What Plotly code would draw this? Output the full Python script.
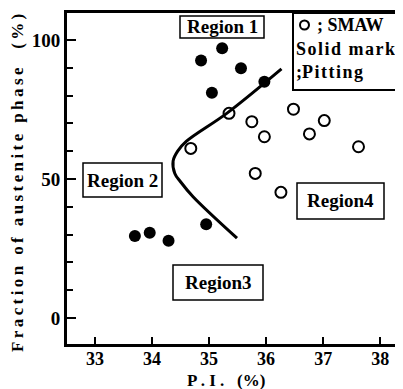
import plotly.graph_objects as go

# Data
pitting_x = [33.70, 33.96, 34.29, 34.95, 34.86, 35.05, 35.23, 35.56, 35.97]
pitting_y = [29.5, 30.7, 27.8, 33.7, 92.6, 81.0, 97.0, 89.8, 85.0]

smaw_x = [34.68, 35.35, 35.75, 35.97, 36.48, 36.76, 37.02, 37.62, 35.81, 36.26]
smaw_y = [61.0, 73.6, 70.6, 65.2, 75.1, 66.2, 71.0, 61.6, 52.0, 45.2]

boundary_x = [36.27, 35.31, 34.60, 34.45, 34.37, 34.40, 34.50, 34.72, 35.49]
boundary_y = [89.6, 73.6, 63.5, 60.0, 56.5, 52.0, 49.0, 43.6, 28.7]

x_ticks = [33, 34, 35, 36, 37, 38]
y_ticks = [0, 50, 100]

region_labels = ["Region 1", "Region 2", "Region3", "Region4"]

FONT = "Liberation Serif"
HS = "\u200a"
TS = "\u2009"

# page offset compensation (body margin)
OFF = 8
PL, PR, PT, PB = 67, 403, 13, 344  # target plot area in window pixels


def px(xp):
    return (xp - PL) / (PR - PL)


def py(yp):
    return (PB - yp) / (PB - PT)


def spaced(s, sep=HS):
    return sep.join(list(s))


fig = go.Figure()

fig.add_trace(go.Scatter(x=boundary_x, y=boundary_y, mode="lines",
                         line=dict(color="black", width=3, shape="spline", smoothing=1.0),
                         hoverinfo="skip", showlegend=False))
fig.add_trace(go.Scatter(x=smaw_x, y=smaw_y, mode="markers",
                         marker=dict(symbol="circle-open", size=11, color="black",
                                     line=dict(width=2, color="black")),
                         showlegend=False))
fig.add_trace(go.Scatter(x=pitting_x, y=pitting_y, mode="markers",
                         marker=dict(symbol="circle", size=12, color="black"),
                         showlegend=False))

# Region label boxes (window pixel boxes)
region_boxes = [(180, 16, 264, 38), (83, 163, 162, 197), (173, 265, 263, 300), (297, 183, 384, 219)]
for lab, (x0, y0, x1, y1) in zip(region_labels, region_boxes):
    fig.add_shape(type="rect", xref="paper", yref="paper",
                  x0=px(x0), x1=px(x1), y0=py(y1), y1=py(y0),
                  line=dict(color="black", width=1.5), fillcolor="white", layer="below")
    fig.add_annotation(x=px((x0 + x1) / 2), y=py((y0 + y1) / 2), xref="paper", yref="paper",
                       text="<b>%s</b>" % lab, showarrow=False,
                       xanchor="center", yanchor="middle",
                       font=dict(family=FONT, size=19, color="black"))

# Legend box (top right)
fig.add_shape(type="rect", xref="paper", yref="paper",
              x0=px(293), x1=px(420), y0=py(90), y1=1.0,
              line=dict(color="black", width=2), fillcolor="white", layer="below")
fig.add_shape(type="circle", xref="paper", yref="paper",
              x0=px(300), x1=px(309), y0=py(29.5), y1=py(20.5),
              line=dict(color="black", width=2), fillcolor="white", layer="above")
leg_lines = ["; SMAW", spaced("Solid mark"), ";" + spaced("Pitting")]
leg_py = [25, 49, 72]
leg_px = [315, 294, 294]
for t, lx, ly in zip(leg_lines, leg_px, leg_py):
    fig.add_annotation(x=px(lx), y=py(ly), xref="paper", yref="paper", text="<b>%s</b>" % t,
                       showarrow=False, xanchor="left", yanchor="middle",
                       font=dict(family=FONT, size=18, color="black"))

# Axis titles as annotations
fig.add_annotation(x=px(18), y=py(183), xref="paper", yref="paper",
                   text="<b>%s</b>" % spaced("Fraction of austenite phase  (%)", TS),
                   textangle=-90, showarrow=False, xanchor="center", yanchor="middle",
                   font=dict(family=FONT, size=17, color="black"))
fig.add_annotation(x=px(226), y=py(380), xref="paper", yref="paper",
                   text="<b>P . I .   (%)</b>", showarrow=False,
                   xanchor="center", yanchor="middle",
                   font=dict(family=FONT, size=17, color="black"))

W, H = 403 - OFF, 389 - OFF
fig.update_layout(
    template="none",
    width=W, height=H,
    margin=dict(l=PL - OFF, r=W - (PR - OFF), t=PT - OFF, b=H - (PB - OFF), pad=0),
    paper_bgcolor="white", plot_bgcolor="white",
    showlegend=False,
    xaxis=dict(range=[32.51, 38.40], tickvals=x_ticks, ticktext=[str(v) for v in x_ticks],
               ticks="inside", ticklen=7, tickwidth=2, tickcolor="black",
               showline=True, linecolor="black", linewidth=3, mirror=True,
               showgrid=False, zeroline=False, automargin=False,
               ticklabelstandoff=-4,
               tickfont=dict(family=FONT, size=18, color="black", weight="bold")),
    yaxis=dict(range=[-9.35, 109.7], tickvals=y_ticks, ticktext=[str(v) for v in y_ticks],
               ticks="inside", ticklen=9, tickwidth=2, tickcolor="black",
               minor=dict(dtick=10, tick0=0, ticks="inside", ticklen=6, tickwidth=2, tickcolor="black"),
               showline=True, linecolor="black", linewidth=3,
               showgrid=False, zeroline=False, automargin=False,
               tickfont=dict(family=FONT, size=19, color="black", weight="bold")),
)

fig.write_html("out.html")
